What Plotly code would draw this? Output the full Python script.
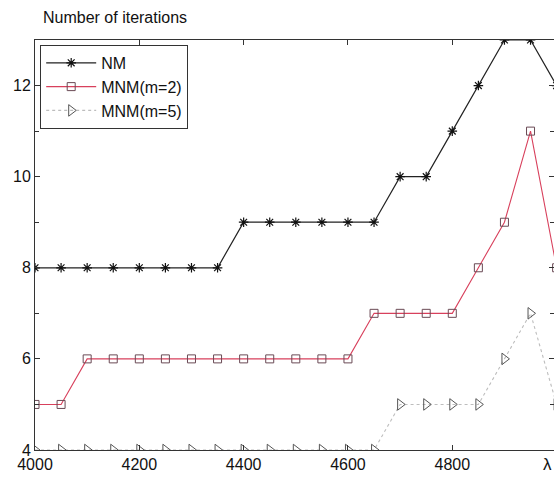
import plotly.graph_objects as go

lam = [4000, 4050, 4100, 4150, 4200, 4250, 4300, 4350, 4400, 4450, 4500,
       4550, 4600, 4650, 4700, 4750, 4800, 4850, 4900, 4950, 5000]
nm = [8, 8, 8, 8, 8, 8, 8, 8, 9, 9, 9, 9, 9, 9, 10, 10, 11, 12, 13, 13, 12]
mnm2 = [5, 5, 6, 6, 6, 6, 6, 6, 6, 6, 6, 6, 6, 7, 7, 7, 7, 8, 9, 11, 8]
mnm5 = [4, 4, 4, 4, 4, 4, 4, 4, 4, 4, 4, 4, 4, 4, 5, 5, 5, 5, 6, 7, 5]

xticks = [4000, 4200, 4400, 4600, 4800]
yticks = [4, 6, 8, 10, 12]

font = "Liberation Sans, Arial, sans-serif"
FS = 16

fig = go.Figure()
fig.add_trace(go.Scatter(
    x=lam, y=nm, name="NM", mode="lines+markers",
    line=dict(color="#222222", width=1.2),
    marker=dict(symbol="asterisk-open", size=8, color="#111111",
                line=dict(color="#111111", width=1.2))))
fig.add_trace(go.Scatter(
    x=lam, y=mnm2, name="MNM(m=2)", mode="lines+markers",
    line=dict(color="#d8405c", width=1.1),
    marker=dict(symbol="square-open", size=8, color="#6a4a55",
                line=dict(color="#6a4a55", width=1))))
fig.add_trace(go.Scatter(
    x=lam, y=mnm5, name="MNM(m=5)", mode="lines+markers",
    line=dict(color="#bdbdbd", width=1.1, dash="dot"),
    marker=dict(symbol="triangle-right-open", size=10, color="#555555",
                line=dict(color="#555555", width=1))))

axis_common = dict(
    showgrid=False, zeroline=False, showline=True, linecolor="#333333",
    linewidth=1, ticks="inside", ticklen=5, tickcolor="#333333",
    mirror="ticks", automargin=False,
    tickfont=dict(family=font, size=FS, color="#111111"))

fig.update_xaxes(range=[4000, 4995], tickvals=xticks,
                 ticktext=[str(v) for v in xticks], **axis_common)
fig.update_yaxes(range=[4, 13], tickvals=yticks,
                 ticktext=[str(v) for v in yticks],
                 minor=dict(dtick=1, ticks="inside", ticklen=4,
                            tickcolor="#333333", showgrid=False),
                 **axis_common)

fig.add_annotation(text="Number of iterations", xref="paper", yref="paper",
                   x=0.012, y=1.03, xanchor="left", yanchor="bottom",
                   showarrow=False,
                   font=dict(family=font, size=FS, color="#111111"))
fig.add_annotation(text="λ", xref="paper", yref="paper",
                   x=1.0, y=-0.008, xanchor="right", yanchor="top",
                   showarrow=False,
                   font=dict(family=font, size=FS + 1, color="#111111"))

fig.update_layout(
    width=554, height=477,
    margin=dict(l=35, r=0, t=40, b=27, pad=0),
    paper_bgcolor="white", plot_bgcolor="white",
    showlegend=True,
    legend=dict(x=0.01, y=0.988, xanchor="left", yanchor="top",
                bgcolor="white", bordercolor="#333333", borderwidth=1,
                font=dict(family=font, size=FS, color="#111111"),
                tracegroupgap=0, itemwidth=50),
)

fig.write_html("out.html",
               config={"displayModeBar": False},
               post_script="document.body.style.margin='0';"
                           "document.body.style.overflow='hidden';")
